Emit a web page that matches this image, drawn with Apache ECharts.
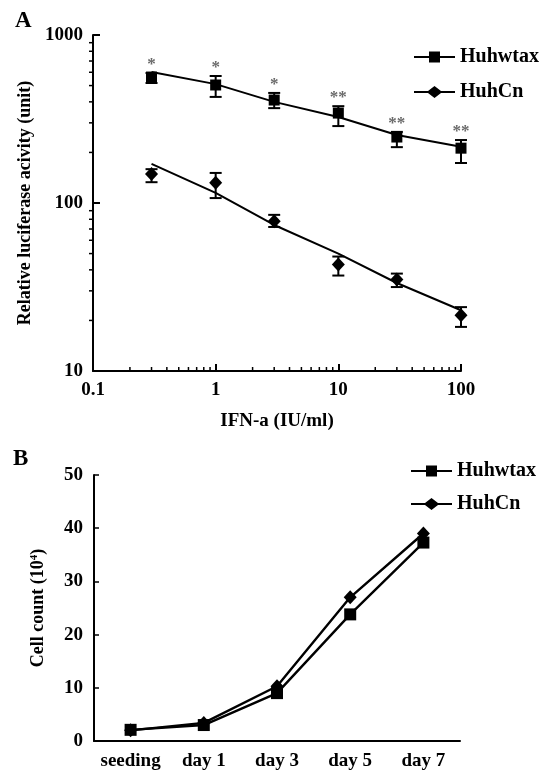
<!DOCTYPE html>
<html>
<head>
<meta charset="utf-8">
<script src="https://cdn.jsdelivr.net/npm/echarts@6/dist/echarts.min.js"></script>
<style>
html,body{margin:0;padding:0;background:#fff;}
#chart{width:551px;height:771px;}
</style>
</head>
<body>
<div id="chart"></div>
<script>
// ---- Panel A data ----
const doseX = [0.3, 1, 3, 10, 30, 100];
const wtaxMean = [562, 504, 410, 343, 247, 212];
const wtaxLow = [518, 428, 367, 287, 215, 173];
const wtaxHigh = [594, 570, 452, 377, 265, 237];
const cnMean = [149, 132, 78, 43, 35, 21.5];
const cnLow = [133, 107, 72, 37, 31.6, 18.3];
const cnHigh = [159, 151, 85, 48, 38, 24];
const wtaxFit = [603, 510, 400, 325, 254, 216];
const cnFit = [171, 115, 74, 50, 33.4, 23];
const stars = ['*', '*', '*', '**', '**', '**'];
const xMinorTicks = [0.2,0.3,0.4,0.5,0.6,0.7,0.8,0.9,2,3,4,5,6,7,8,9,20,30,40,50,60,70,80,90];
const yMinorTicks = [20,30,40,50,60,70,80,90,200,300,400,500,600,700,800,900];

// ---- Panel B data ----
const days = ['seeding', 'day 1', 'day 3', 'day 5', 'day 7'];
const wtaxCount = [2.1, 3.0, 9.0, 23.8, 37.3];
const cnCount = [2.0, 3.4, 10.3, 27.0, 39.0];

const FONT = 'Liberation Serif';
const SQ_ICON = 'path://M0,4.5H15V0H26V4.5H41V6.5H26V11H15V6.5H0Z';
const DM_ICON = 'path://M0,5H14L20.5,0L27,5H41V7H27L20.5,12L14,7H0Z';

const chart = echarts.init(document.getElementById('chart'));

function zip(xs, ys) { return xs.map((x, i) => [x, ys[i]]); }
function errData(xs, lo, hi) { return xs.map((x, i) => [x, lo[i], hi[i]]); }

function errRender(params, api) {
  const x = api.value(0), lo = api.value(1), hi = api.value(2);
  const a = api.coord([x, lo]), b = api.coord([x, hi]);
  const w = 6;
  const st = { stroke: '#000', lineWidth: 2 };
  return {
    type: 'group',
    children: [
      { type: 'line', shape: { x1: a[0], y1: a[1], x2: b[0], y2: b[1] }, style: st },
      { type: 'line', shape: { x1: a[0] - w, y1: a[1], x2: a[0] + w, y2: a[1] }, style: st },
      { type: 'line', shape: { x1: b[0] - w, y1: b[1], x2: b[0] + w, y2: b[1] }, style: st }
    ]
  };
}

const axisTextA = { fontFamily: FONT, fontWeight: 'bold', fontSize: 19, color: '#000' };
const legendText = { fontFamily: FONT, fontWeight: 'bold', fontSize: 20, color: '#000' };

const option = {
  animation: false,
  backgroundColor: '#fff',
  graphic: [
    { type: 'text', left: 15, top: 10, style: { text: 'A', fontFamily: FONT, fontWeight: 'bold', fontSize: 23, fill: '#000' } },
    { type: 'text', left: 13, top: 448, style: { text: 'B', fontFamily: FONT, fontWeight: 'bold', fontSize: 23, fill: '#000' } }
  ],
  legend: [
    {
      orient: 'vertical', left: 414, top: 47, padding: 0, itemGap: 15,
      itemWidth: 41, itemHeight: 12, selectedMode: false, textStyle: legendText,
      itemStyle: { opacity: 1, color: '#000' },
      data: [{ name: 'Huhwtax', icon: SQ_ICON }, { name: 'HuhCn', icon: DM_ICON }]
    },
    {
      orient: 'vertical', left: 411, top: 461, padding: 0, itemGap: 13,
      itemWidth: 41, itemHeight: 12, selectedMode: false, textStyle: legendText,
      itemStyle: { opacity: 1, color: '#000' },
      data: [{ name: 'Huhwtax', icon: SQ_ICON }, { name: 'HuhCn', icon: DM_ICON }]
    }
  ],
  grid: [
    { left: 93, top: 35, right: 90, bottom: 400 },
    { left: 94, top: 475, right: 91, bottom: 29 }
  ],
  xAxis: [
    {
      type: 'log', logBase: 10, min: 0.1, max: 100, splitNumber: 3, gridIndex: 0,
      name: 'IFN-a (IU/ml)', nameLocation: 'middle', nameGap: 41,
      nameTextStyle: { fontFamily: FONT, fontWeight: 'bold', fontSize: 19, color: '#000' },
      axisLine: { lineStyle: { color: '#000', width: 2 } },
      axisTick: { inside: true, length: 7, lineStyle: { color: '#000', width: 2 } },
      axisLabel: Object.assign({ margin: 10, formatter: v => String(v) }, axisTextA),
      splitLine: { show: false }
    },
    {
      type: 'category', data: days, gridIndex: 1, boundaryGap: true,
      axisLine: { lineStyle: { color: '#000', width: 2 } },
      axisTick: { inside: true, length: 5, alignWithLabel: true, lineStyle: { color: '#000', width: 1.5 } },
      axisLabel: Object.assign({ margin: 11, interval: 0 }, axisTextA),
      splitLine: { show: false }
    }
  ],
  yAxis: [
    {
      type: 'log', logBase: 10, min: 10, max: 1000, splitNumber: 2, gridIndex: 0,
      name: 'Relative luciferase acivity (unit)', nameLocation: 'middle', nameGap: 52,
      nameTextStyle: { fontFamily: FONT, fontWeight: 'bold', fontSize: 18, color: '#000' },
      axisLine: { show: true, lineStyle: { color: '#000', width: 2 } },
      axisTick: { show: true, inside: true, length: 7, lineStyle: { color: '#000', width: 2 } },
      axisLabel: Object.assign({ margin: 10, formatter: v => String(Math.round(v)) }, axisTextA),
      splitLine: { show: false }
    },
    {
      type: 'value', min: 0, max: 50, interval: 10, gridIndex: 1,
      name: 'Cell count (10{sup|4})', nameLocation: 'middle', nameGap: 47,
      nameTextStyle: {
        fontFamily: FONT, fontWeight: 'bold', fontSize: 18, color: '#000',
        rich: { sup: { fontFamily: FONT, fontWeight: 'bold', fontSize: 11, verticalAlign: 'top', lineHeight: 14, color: '#000' } }
      },
      axisLine: { show: true, lineStyle: { color: '#000', width: 2 } },
      axisTick: { show: true, inside: true, length: 5, lineStyle: { color: '#000', width: 1.5 } },
      axisLabel: Object.assign({ margin: 11 }, axisTextA),
      splitLine: { show: false }
    }
  ],
  series: [
    // minor ticks, panel A
    {
      type: 'custom', name: 'xminor', xAxisIndex: 0, yAxisIndex: 0, clip: false, silent: true,
      data: xMinorTicks.map(v => [v, 10]),
      renderItem: (p, api) => {
        const c = api.coord([api.value(0), api.value(1)]);
        return { type: 'line', shape: { x1: c[0], y1: c[1], x2: c[0], y2: c[1] - 4 }, style: { stroke: '#000', lineWidth: 1.5 } };
      }
    },
    {
      type: 'custom', name: 'yminor', xAxisIndex: 0, yAxisIndex: 0, clip: false, silent: true,
      data: yMinorTicks.map(v => [0.1, v]),
      renderItem: (p, api) => {
        const c = api.coord([api.value(0), api.value(1)]);
        return { type: 'line', shape: { x1: c[0], y1: c[1], x2: c[0] - 4, y2: c[1] }, style: { stroke: '#000', lineWidth: 1.5 } };
      }
    },
    // fit lines
    {
      type: 'line', name: 'wtaxFit', xAxisIndex: 0, yAxisIndex: 0, data: zip(doseX, wtaxFit),
      showSymbol: false, symbol: 'none', lineStyle: { color: '#000', width: 2 }, silent: true
    },
    {
      type: 'line', name: 'cnFit', xAxisIndex: 0, yAxisIndex: 0, data: zip(doseX, cnFit),
      showSymbol: false, symbol: 'none', lineStyle: { color: '#000', width: 2 }, silent: true
    },
    // error bars
    {
      type: 'custom', name: 'wtaxErr', xAxisIndex: 0, yAxisIndex: 0, data: errData(doseX, wtaxLow, wtaxHigh),
      encode: { x: 0, y: [1, 2] }, renderItem: errRender, silent: true
    },
    {
      type: 'custom', name: 'cnErr', xAxisIndex: 0, yAxisIndex: 0, data: errData(doseX, cnLow, cnHigh),
      encode: { x: 0, y: [1, 2] }, renderItem: errRender, silent: true
    },
    // markers
    {
      type: 'scatter', name: 'Huhwtax', xAxisIndex: 0, yAxisIndex: 0, data: zip(doseX, wtaxMean),
      symbol: 'rect', symbolSize: 11, itemStyle: { color: '#000', opacity: 1 }, z: 5
    },
    {
      type: 'scatter', name: 'HuhCn', xAxisIndex: 0, yAxisIndex: 0, data: zip(doseX, cnMean),
      symbol: 'diamond', symbolSize: [13, 14], itemStyle: { color: '#000', opacity: 1 }, z: 5
    },
    // significance stars
    {
      type: 'scatter', name: 'stars', xAxisIndex: 0, yAxisIndex: 0, data: zip(doseX, wtaxHigh),
      symbolSize: 0, silent: true,
      label: {
        show: true, position: 'top', distance: 0,
        formatter: p => stars[p.dataIndex],
        fontFamily: FONT, fontWeight: 'bold', fontSize: 17, color: '#444'
      }
    },
    // Panel B
    {
      type: 'line', name: 'Huhwtax', xAxisIndex: 1, yAxisIndex: 1, data: wtaxCount,
      symbol: 'rect', symbolSize: 12, showSymbol: true,
      itemStyle: { color: '#000', opacity: 1 }, lineStyle: { color: '#000', width: 2.4 }, z: 4
    },
    {
      type: 'line', name: 'HuhCn', xAxisIndex: 1, yAxisIndex: 1, data: cnCount,
      symbol: 'diamond', symbolSize: [13, 14], showSymbol: true,
      itemStyle: { color: '#000', opacity: 1 }, lineStyle: { color: '#000', width: 2.4 }, z: 5
    }
  ]
};

chart.setOption(option);
</script>
</body>
</html>
